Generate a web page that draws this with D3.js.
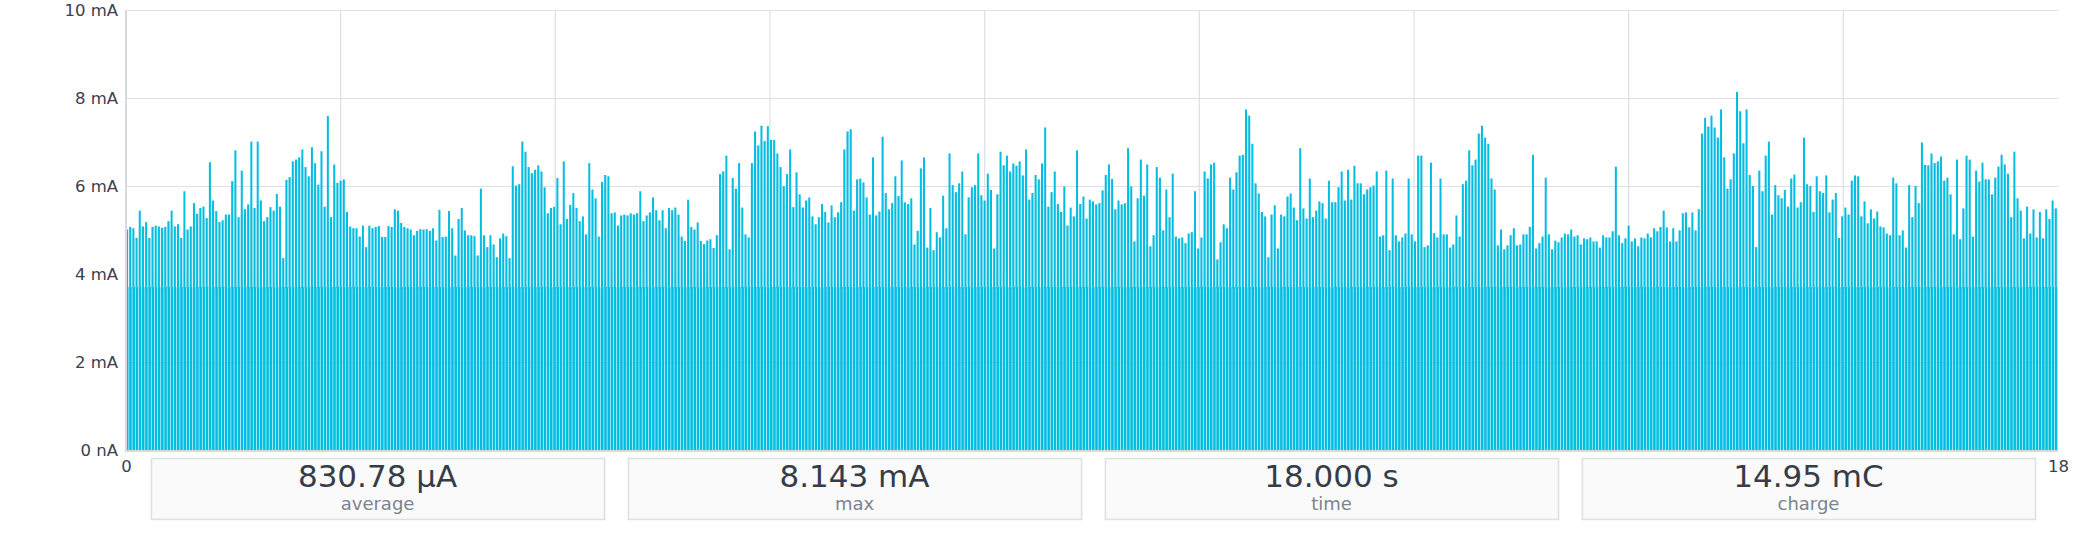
<!DOCTYPE html>
<html>
<head>
<meta charset="utf-8">
<script src="https://cdn.jsdelivr.net/npm/d3@7"></script>
<style>
  body { margin: 0; background: #ffffff; }
  text { font-family: "DejaVu Sans", Verdana, sans-serif; }
</style>
</head>
<body>
<svg id="chart"></svg>
<script>
// peak current of each pulse, in mA, read left to right (split by stretch of the recording)
var peaksA = [5.01,5.07,5.04,4.82,5.44,5.08,5.18,4.82,5.07,5.10,5.08,5.05,5.07,5.20,5.44,5.08,5.13,4.82,5.88,5.01,
  5.08,5.61,5.37,5.50,5.53,5.27,6.54,5.67,5.43,5.18,5.22,5.35,5.35,6.11,6.81,5.29,6.35,5.47,5.58,7.01,
  5.50,7.01,5.67,5.20,5.29,5.52,5.44,5.82,5.53,4.36,6.14,6.20,6.56,6.60,6.65,6.83,6.43,6.22,6.88,6.52,
  6.03,6.79,5.53,7.59,5.29,6.49,6.07,6.12,6.15,5.41,5.08,5.04,5.04,4.85,5.10,4.61,5.10,5.04,5.07,5.09,
  4.84,4.84,5.09,5.07,5.47,5.44,5.16,5.07,5.04,5.01,4.88,4.98,5.02,5.01,5.02,4.98,5.04,4.76,5.46,4.84]
var peaksB = [4.85,5.43,5.04,4.42,5.25,5.50,4.99,4.88,4.88,4.86,4.42,5.94,4.88,4.61,4.88,4.67,4.38,4.81,4.92,4.86,
  4.36,6.45,6.01,6.04,7.01,6.78,6.43,6.29,6.37,6.47,6.33,5.97,5.38,5.50,5.53,6.18,5.13,6.56,5.25,5.57,
  5.84,5.50,5.20,5.31,4.90,6.52,5.92,5.72,4.85,6.09,6.25,6.22,5.38,5.40,5.10,5.33,5.35,5.33,5.38,5.35,
  5.38,5.88,5.20,5.33,5.40,5.74,5.45,5.22,5.45,5.04,5.50,5.45,5.51,5.35,4.85,4.75,5.69,5.07,5.01,5.17,
  4.75,4.68,4.76,4.79,4.59,4.88,6.27,6.33,6.69,4.56,6.18,5.94,6.52,5.51,4.90,4.83,6.52,7.24,6.92,7.37,
  7.02,7.36,7.05]
var peaksC = [7.05,6.74,6.43,6.00,6.27,6.83,5.52,6.31,5.81,5.51,5.67,5.74,5.31,5.13,5.29,5.59,5.41,5.17,5.56,5.29,
  5.40,5.63,6.83,7.24,7.29,5.44,6.15,6.17,6.08,5.74,5.35,6.65,5.33,5.42,7.12,5.84,5.47,5.61,6.22,5.77,
  6.58,5.63,5.59,5.72,4.67,4.98,6.40,6.65,4.60,5.50,4.54,4.95,4.83,5.78,5.04,6.74,6.02,5.86,6.06,6.33,
  4.90,5.74,5.97,6.02,6.74,5.79,5.67,6.28,5.91,4.58,5.81,6.78,6.47,6.69,6.33,6.51,6.46,6.56,6.24,6.83,
  5.69,5.84,6.25,6.15,6.51,7.33,5.53,5.86,6.33,5.59,5.41,5.99,5.10,5.51,5.31,6.81,5.59,5.76,5.26,5.69,
  5.65,5.58]
var peaksD = [5.61,5.90,6.25,6.49,6.16,5.47,5.67,5.58,5.61,6.86,5.99,4.74,5.72,6.60,5.78,6.49,4.63,4.88,6.43,6.19,
  4.99,5.92,5.29,6.28,4.85,4.81,4.83,4.70,4.92,4.95,5.88,4.58,4.83,6.33,6.17,6.49,6.53,4.33,4.72,5.13,
  5.04,6.19,5.92,6.31,6.69,6.71,7.74,7.60,6.96,6.06,5.83,5.41,5.31,4.38,5.35,5.56,4.58,5.35,5.31,5.76,
  5.83,5.51,5.22,6.86,5.49,5.26,6.17,5.29,5.44,5.65,5.61,5.26,6.12,5.63,5.63,5.97,6.33,5.67,6.37,5.69,
  6.46,6.06,6.06,5.81,5.92,5.97,6.01,6.33,4.85,4.88,6.35,4.54,6.17,4.88,4.74,4.83,4.92,6.17,4.90,4.74,
  6.69]
var peaksE = [6.69,4.61,4.65,6.53,4.93,4.83,6.17,4.90,4.90,4.60,4.67,5.33,4.85,6.04,6.12,6.81,6.47,6.60,7.19,7.37,
  7.10,6.96,6.17,5.92,4.65,5.01,4.56,4.65,4.88,5.04,4.65,4.67,4.90,4.90,5.07,6.71,4.58,4.70,4.85,6.19,
  4.90,4.56,4.76,4.72,4.83,4.92,4.90,5.01,4.85,4.88,4.67,4.81,4.79,4.83,4.74,4.74,4.60,4.88,4.83,4.83,
  4.97,6.44,4.88,4.70,4.81,5.10,4.74,4.81,4.63,4.83,4.81,4.92,4.83,5.04,4.97,5.07,5.44,5.06,4.74,5.04,
  4.74,4.99,5.38,5.40,5.06,5.40,4.99,5.47,7.19,7.55,7.35,7.60,7.33,7.10,7.74,6.65,5.94,6.15,6.74]
var peaksF = [8.14,7.70,6.97,7.74,6.25,6.00,4.61,6.35,5.88,6.69,7.01,5.35,6.02,5.79,5.72,5.91,5.53,6.17,6.26,5.51,
  5.63,7.10,6.04,6.00,5.41,6.22,5.88,5.84,6.24,5.40,5.69,5.84,4.82,5.31,5.51,5.35,6.12,6.24,6.22,5.31,
  5.65,5.15,5.47,5.26,5.42,5.08,5.06,4.92,4.88,6.19,6.06,4.88,4.99,4.60,6.02,5.29,6.00,5.61,6.99,6.48,
  6.47,6.74,6.52,6.56,6.67,6.12,6.19,5.81,4.90,6.60,4.79,5.49,6.69,6.60,4.85,6.35,6.10,6.53,6.15,6.15,
  5.81,6.19,6.44,6.71,6.49,6.28,5.29,6.78,5.72,5.44,4.81,5.53,4.92,5.47,4.83,5.41,4.81,5.47,5.25,5.67,
  5.49]

var idleLevel = 3.7         // mA, the flat floor the pulses sit on
var duration = 18           // s
var yTicks = [0, 2, 4, 6, 8, 10]
var xTickValues = [0, 18]
var gridTimes = [2, 4, 6, 8, 10, 12, 14, 16]

var statValues = ["830.78 \u03bcA", "8.143 mA", "18.000 s", "14.95 mC"]
var statLabels = ["average", "max", "time", "charge"]

var peaks = [].concat(peaksA, peaksB, peaksC, peaksD, peaksE, peaksF)

var screen = {width: 2100, height: 539}
var margins = {left: 126, right: 42, top: 10, bottom: 89}
var graph = {
    width: screen.width - margins.left - margins.right,
    height: screen.height - margins.top - margins.bottom
}

var svg = d3.select("#chart")
    .attr("width", screen.width)
    .attr("height", screen.height)

var target = svg.append("g")
    .attr("transform", "translate(" + margins.left + "," + margins.top + ")")

var xScale = d3.scaleLinear()
    .domain([0, duration])
    .range([0, graph.width])

var yScale = d3.scaleLinear()
    .domain([0, 10])
    .range([graph.height, 0])

var dt = duration / peaks.length
var step = xScale(dt) - xScale(0)
var cyan = "#00bde2"
var pale = "#e3f1f5"

// grid
target.append("g").selectAll("line")
    .data(yTicks)
    .enter().append("line")
    .attr("x1", 0).attr("x2", graph.width)
    .attr("y1", function(d) { return yScale(d) + 0.5 })
    .attr("y2", function(d) { return yScale(d) + 0.5 })
    .attr("stroke", "#dcdfe4")
    .attr("stroke-width", 1.2)

target.append("g").selectAll("line")
    .data(gridTimes)
    .enter().append("line")
    .attr("x1", function(d) { return xScale(d) })
    .attr("x2", function(d) { return xScale(d) })
    .attr("y1", 0).attr("y2", graph.height)
    .attr("stroke", "#dcdfe4")
    .attr("stroke-width", 1.2)

var samples = peaks.map(function(p, i) {
    return {t: i * dt, peak: p, next: i < peaks.length - 1 ? peaks[i + 1] : p}
})

// pale band between neighbouring pulses
target.append("g").selectAll("rect")
    .data(samples)
    .enter().append("rect")
    .attr("x", function(d) { return xScale(d.t) })
    .attr("width", step)
    .attr("y", function(d) { return yScale(Math.min(d.peak, d.next)) })
    .attr("height", function(d) { return yScale(idleLevel) - yScale(Math.min(d.peak, d.next)) })
    .attr("fill", pale)

// floor
target.append("g").selectAll("rect")
    .data(samples)
    .enter().append("rect")
    .attr("x", function(d) { return xScale(d.t) })
    .attr("width", step - 0.6)
    .attr("y", yScale(idleLevel))
    .attr("height", graph.height - yScale(idleLevel))
    .attr("fill", cyan)

// pulses
target.append("g").selectAll("rect")
    .data(samples)
    .enter().append("rect")
    .attr("x", function(d) { return xScale(d.t) })
    .attr("width", 2)
    .attr("y", function(d) { return yScale(d.peak) })
    .attr("height", function(d) { return yScale(idleLevel) - yScale(d.peak) + 1 })
    .attr("fill", cyan)

// axes lines
target.append("line")
    .attr("x1", 0).attr("x2", 0)
    .attr("y1", 0).attr("y2", graph.height + 1)
    .attr("stroke", "#d6d9de").attr("stroke-width", 2)
target.append("line")
    .attr("x1", -1).attr("x2", graph.width)
    .attr("y1", graph.height + 1).attr("y2", graph.height + 1)
    .attr("stroke", "#d6d9de").attr("stroke-width", 2)

// y labels
var yAxis = d3.axisLeft(yScale)
    .tickValues(yTicks)
    .tickSize(0)
    .tickPadding(8)
    .tickFormat(function(d) { return d === 0 ? "0 nA" : d + " mA" })

var yg = target.append("g").call(yAxis)
yg.select(".domain").remove()
yg.selectAll("text")
    .attr("font-family", "DejaVu Sans, sans-serif")
    .attr("font-size", 16.5)
    .attr("fill", "#3b404c")

// x labels
var xAxis = d3.axisBottom(xScale)
    .tickValues(xTickValues)
    .tickSize(0)
    .tickPadding(10)
    .tickFormat(d3.format("d"))

var xg = target.append("g")
    .attr("transform", "translate(0," + graph.height + ")")
    .call(xAxis)
xg.select(".domain").remove()
xg.selectAll("text")
    .attr("font-family", "DejaVu Sans, sans-serif")
    .attr("font-size", 16.5)
    .attr("fill", "#3b404c")

// stats boxes
var boxScale = d3.scaleBand()
    .domain(statLabels)
    .range([151, 2035])
    .paddingInner(0.05)
    .paddingOuter(0)

var boxes = svg.append("g").selectAll("g")
    .data(statLabels)
    .enter().append("g")
    .attr("transform", function(d) { return "translate(" + boxScale(d) + ",458)" })

boxes.append("rect")
    .attr("x", 0.5).attr("y", 0.5)
    .attr("width", boxScale.bandwidth())
    .attr("height", 61)
    .attr("fill", "#fafafa")
    .attr("stroke", "#dcdfe4")
    .attr("stroke-width", 1.5)

boxes.append("text")
    .text(function(d, i) { return statValues[i] })
    .attr("x", boxScale.bandwidth() / 2)
    .attr("y", 29)
    .attr("text-anchor", "middle")
    .attr("font-size", 31)
    .attr("fill", "#363c48")

boxes.append("text")
    .text(function(d) { return d })
    .attr("x", boxScale.bandwidth() / 2)
    .attr("y", 52)
    .attr("text-anchor", "middle")
    .attr("font-size", 18)
    .attr("fill", "#7d8390")
</script>
</body>
</html>
